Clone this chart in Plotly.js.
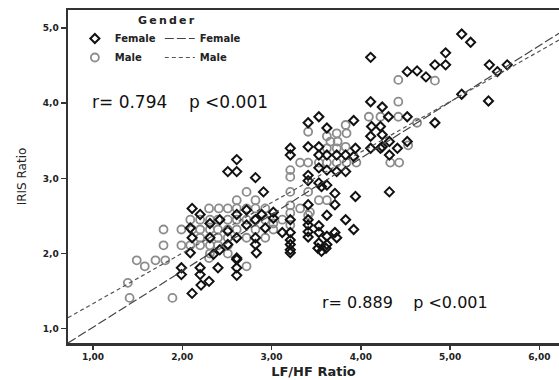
<!DOCTYPE html>
<html><head><meta charset="utf-8">
<script src="https://cdn.plot.ly/plotly-3.0.1.min.js"></script>
<style>html,body{margin:0;padding:0;background:#fff;} #chart{width:559px;height:380px;}</style>
</head><body><div id="chart"></div>
<script>
// Female (diamonds)
const femaleX = [5.13,5.23,4.95,4.83,4.95,4.52,4.63,4.73,5.44,5.53,5.64,5.13,5.43,4.11,4.11,4.24,4.31,4.52,4.83,3.53,
3.41,3.92,3.62,4.12,4.22,4.11,4.24,4.52,4.32,4.24,4.32,4.32,4.11,4.22,4.41,3.21,3.21,3.41,3.53,3.94,
3.83,3.92,3.53,3.62,3.73,3.53,3.62,3.73,3.83,3.41,3.41,3.53,3.62,3.56,3.94,3.71,3.71,3.83,3.92,3.12,
3.21,3.21,3.21,3.21,3.21,3.21,3.41,3.41,3.41,3.41,3.41,3.53,3.53,3.62,3.53,3.62,3.71,3.73,3.52,3.61,
3.56,3.62,3.02,3.02,2.61,2.51,2.61,2.82,2.91,2.11,2.89,2.11,1.99,1.99,2.20,2.20,2.40,2.30,2.21,2.61,
2.61,2.61,2.09,2.11,2.20,2.31,2.31,2.42,2.51,2.61,2.61,2.72,2.72,2.82,2.93,2.82,2.82,2.42,2.35,2.09,
2.83,2.61,2.51];
const femaleY = [4.92,4.81,4.67,4.51,4.51,4.42,4.43,4.35,4.51,4.42,4.51,4.12,4.03,4.61,4.02,3.95,3.82,3.82,3.74,3.82,
3.74,3.77,3.67,3.69,3.69,3.56,3.58,3.49,3.49,3.42,3.31,2.82,3.40,3.40,3.40,3.40,3.31,3.42,3.42,3.40,
3.31,3.29,3.31,3.31,3.31,3.14,3.11,3.09,3.09,3.04,2.97,2.94,2.91,2.89,2.76,2.80,2.65,2.45,2.32,2.28,
2.45,2.28,2.18,2.12,2.05,2.01,2.65,2.45,2.38,2.29,2.22,2.37,2.28,2.23,2.14,2.12,2.28,2.21,2.07,2.07,
2.03,2.51,2.55,2.47,3.25,3.09,3.09,3.01,2.82,2.60,2.52,1.47,1.81,1.72,1.81,1.72,1.81,1.63,1.58,1.81,
1.71,1.92,2.34,2.21,2.52,2.40,2.21,2.45,2.30,2.52,2.21,2.58,2.38,2.45,2.34,2.21,2.12,2.05,1.99,2.01,
2.01,1.94,2.12];
// Male (circles)
const maleX = [4.42,4.83,4.42,4.63,4.22,4.42,4.09,3.83,3.62,3.73,3.84,3.66,3.74,3.62,3.73,3.83,3.41,4.53,4.33,4.43,
3.32,3.41,3.53,3.62,3.73,3.84,3.95,3.21,3.21,3.21,3.41,3.53,3.62,3.21,2.72,2.61,2.82,2.30,2.41,2.51,
1.79,1.99,2.11,1.79,1.99,1.49,1.58,1.70,1.81,1.39,1.41,1.89,2.30,2.72,2.61,2.72,2.82,2.93,2.09,2.20,
2.31,2.40,2.51,2.61,2.72,2.82,2.20,2.31,2.40,2.51,2.61,2.20,2.31,2.40,2.51,2.72,2.09,2.20,2.31,2.40,
2.51,2.31,2.51,2.93,3.02,3.12,3.02,3.32,3.43,3.21,3.21,3.41,2.82,2.93];
const maleY = [4.31,4.30,4.02,3.74,3.82,3.82,3.82,3.71,3.56,3.60,3.60,3.49,3.49,3.40,3.40,3.42,3.62,3.44,3.21,3.21,
3.21,3.21,3.21,3.21,3.21,3.21,3.21,3.11,3.02,2.82,2.82,2.71,2.71,2.64,2.82,2.71,2.71,2.60,2.60,2.60,
2.32,2.32,2.32,2.11,2.11,1.91,1.83,1.91,1.91,1.61,1.41,1.41,1.94,1.83,2.60,2.60,2.60,2.60,2.45,2.45,
2.45,2.45,2.45,2.45,2.45,2.45,2.32,2.32,2.32,2.32,2.32,2.21,2.21,2.21,2.21,2.21,2.11,2.11,2.11,2.11,
2.11,2.00,2.00,2.45,2.40,2.45,2.32,2.60,2.55,2.54,2.38,2.51,2.32,2.21];
// Fit lines (end points)
const fitX = [0.72, 6.22];
const femaleFitY = [0.81, 4.93];
const maleFitY = [1.146, 4.84];
// Ticks
const xTicks = [1,2,3,4,5,6];
const xTickLabels = ['1,00','2,00','3,00','4,00','5,00','6,00'];
const yTicks = [1,2,3,4,5];
const yTickLabels = ['1,0','2,0','3,0','4,0','5,0'];

const FONT = 'DejaVu Sans, Verdana, sans-serif';

const traces = [
  {x: maleX, y: maleY, type:'scatter', mode:'markers', name:'Male', legend:'legend', legendrank:2,
   marker:{symbol:'circle-open', size:8, color:'#8c8c8c', line:{width:1.8, color:'#8c8c8c'}}},
  {x: femaleX, y: femaleY, type:'scatter', mode:'markers', name:'Female', legend:'legend', legendrank:1,
   marker:{symbol:'diamond-open', size:7, color:'#111', line:{width:2, color:'#111'}}},
  {x: fitX, y: femaleFitY, type:'scatter', mode:'lines', name:'Female', legend:'legend2', legendrank:1,
   line:{color:'#444', width:1.2, dash:'9px,3px'}},
  {x: fitX, y: maleFitY, type:'scatter', mode:'lines', name:'Male', legend:'legend2', legendrank:2,
   line:{color:'#555', width:1.2, dash:'4px,3px'}}
];

const layout = {
  width:559, height:380,
  margin:{l:68, r:0, t:10, b:37},
  paper_bgcolor:'#fff', plot_bgcolor:'#fff',
  showlegend:true,
  hovermode:false,
  xaxis:{range:[0.72,6.22], tickvals:xTicks, ticktext:xTickLabels, ticks:'outside', ticklen:4, tickwidth:1.5,
    tickcolor:'#333', showline:true, linewidth:2.5, linecolor:'#333', mirror:true, showgrid:false, zeroline:false,
    tickfont:{family:FONT, size:9, weight:'bold', color:'#222'},
    title:{text:'LF/HF Ratio', font:{family:FONT, size:13, weight:'bold', color:'#222'}, standoff:6}},
  yaxis:{range:[0.81,5.24], tickvals:yTicks, ticktext:yTickLabels, ticks:'outside', ticklen:5, tickwidth:1.5,
    tickcolor:'#333', showline:true, linewidth:2.5, linecolor:'#333', showgrid:false, zeroline:false,
    tickfont:{family:FONT, size:9, weight:'bold', color:'#222'},
    title:{text:'IRIS Ratio', font:{family:FONT, size:12, color:'#222'}, standoff:14}},
  legend:{x:0.014, y:0.958, xanchor:'left', yanchor:'top', bgcolor:'rgba(0,0,0,0)',
    font:{family:FONT, size:10, weight:'bold', color:'#222'}, tracegroupgap:0},
  legend2:{x:0.187, y:0.958, xanchor:'left', yanchor:'top', bgcolor:'rgba(0,0,0,0)',
    font:{family:FONT, size:10, weight:'bold', color:'#222'}, tracegroupgap:0},
  annotations:[
    {xref:'paper', yref:'paper', x:0.2, y:0.967, xanchor:'center', yanchor:'middle', showarrow:false,
     text:'G\u2009e\u2009n\u2009d\u2009e\u2009r', font:{family:FONT, size:11, weight:'bold', color:'#222'}},
    {xref:'x', yref:'y', x:0.966, y:4.02, xanchor:'left', yanchor:'middle', showarrow:false,
     text:'r= 0.794\u00a0\u00a0\u00a0\u00a0p <0.001', font:{family:FONT, size:17, color:'#111'}},
    {xref:'x', yref:'y', x:3.545, y:1.345, xanchor:'left', yanchor:'middle', showarrow:false,
     text:'r= 0.889\u00a0\u00a0\u00a0\u00a0p <0.001', font:{family:FONT, size:16, color:'#111'}}
  ]
};

Plotly.newPlot('chart', traces, layout, {displayModeBar:false, staticPlot:true});
</script>
</body></html>
